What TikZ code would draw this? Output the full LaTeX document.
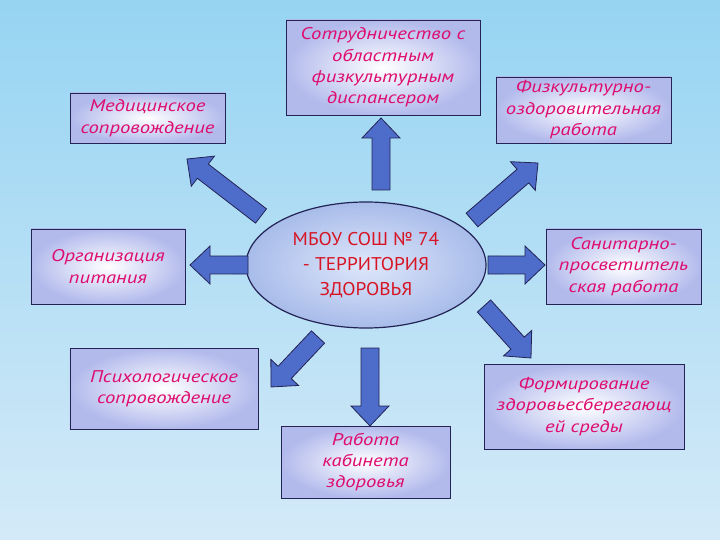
\documentclass[tikz,border=0pt]{standalone}
\usepackage{fontspec}
\setmainfont{PT Sans}
\newfontfamily\boxfont[FakeStretch=1.22]{PT Sans}
\newfontfamily\hubfont[FakeStretch=1.05]{PT Sans}
\usetikzlibrary{shapes.geometric,calc}
\definecolor{textcolor}{RGB}{222,12,110}
\definecolor{hubtext}{RGB}{215,20,35}
\definecolor{linecolor}{RGB}{35,35,85}
\definecolor{arrowfill}{RGB}{78,108,202}
\definecolor{boxfill}{RGB}{178,186,236}
\definecolor{hubfill}{RGB}{168,188,234}
\definecolor{hubcore}{RGB}{222,230,250}
\definecolor{skytop}{RGB}{150,212,242}
\definecolor{skymid}{RGB}{234,246,252}
\definecolor{skybot}{RGB}{212,234,248}

\begin{document}
\begin{tikzpicture}[%
    x=1bp, y=-1bp,              % pixel grid of the slide, y going down
    ]
\tikzset{
  base/.style={draw=linecolor, line width=0.8bp, align=center, inner sep=2bp},
  box/.style={base, rectangle, inner color=white, outer color=boxfill, text=textcolor,
    font=\boxfont\itshape\fontsize{17}{21.5}\selectfont},
  hub/.style={base, ellipse, line width=1.2bp, inner color=hubcore, outer color=hubfill,
    text=hubtext, font=\hubfont\fontsize{18.5}{25}\selectfont, minimum width=240bp, minimum height=126bp},
  fat/.style={draw=linecolor, fill=arrowfill, line width=0.8bp, line join=miter,
    to path={($(\tikztostart)!9bp!90:(\tikztotarget)$)
      -- ($(\tikztotarget)!21.93bp!-24.23:(\tikztostart)$)
      -- ($(\tikztotarget)!27.59bp!-43.53:(\tikztostart)$)
      -- (\tikztotarget)
      -- ($(\tikztotarget)!27.59bp!43.53:(\tikztostart)$)
      -- ($(\tikztotarget)!21.93bp!24.23:(\tikztostart)$)
      -- ($(\tikztostart)!9bp!-90:(\tikztotarget)$) -- cycle}},
}

% background of the slide
\shade [top color=skytop, middle color=skymid, bottom color=skybot] (0,0) rectangle (720,540);
\useasboundingbox (0,0) rectangle (720,540);

\node [hub] (c) at (366,265) {МБОУ СОШ № 74\\- ТЕРРИТОРИЯ\\ЗДОРОВЬЯ};

\node [box, minimum width=155bp, minimum height=50bp] (p1) at (147.5,118) {Медицинское\\сопровождение};
\node [box, minimum width=194bp, minimum height=95bp] (p2) at (383,67.5) {Сотрудничество с\\областным\\физкультурным\\диспансером};
\node [box, minimum width=175bp, minimum height=66bp] (p3) at (583.5,110) {Физкультурно-\\оздоровительная\\работа};
\node [box, minimum width=154bp, minimum height=75bp] (p4) at (108,266.5) {Организация\\питания};
\node [box, minimum width=155bp, minimum height=75bp] (p5) at (623.5,266.5) {Санитарно-\\просветитель\\ская работа};
\node [box, minimum width=188bp, minimum height=81bp] (p6) at (164,388.5) {Психологическое\\сопровождение};
\node [box, minimum width=169bp, minimum height=72bp] (p7) at (365.5,462) {Работа\\кабинета\\здоровья};
\node [box, minimum width=200bp, minimum height=85bp] (p8) at (584,406.5) {Формирование\\здоровьесберегающ\\ей среды};

% arrow ends
\coordinate (a1) at (261,216); \coordinate (b1) at (187,159);
\coordinate (a2) at (381,190); \coordinate (b2) at (381,118);
\coordinate (a3) at (472,220); \coordinate (b3) at (538,163);
\coordinate (a4) at (248,265); \coordinate (b4) at (190,265);
\coordinate (a5) at (488,265); \coordinate (b5) at (545,265);
\coordinate (a6) at (318,337); \coordinate (b6) at (271,387);
\coordinate (a7) at (370,348); \coordinate (b7) at (370,426);
\coordinate (a8) at (484,306); \coordinate (b8) at (531,358);

\draw [fat] (a1) to (b1);
\draw [fat] (a2) to (b2);
\draw [fat] (a3) to (b3);
\draw [fat] (a4) to (b4);
\draw [fat] (a5) to (b5);
\draw [fat] (a6) to (b6);
\draw [fat] (a7) to (b7);
\draw [fat] (a8) to (b8);

\end{tikzpicture}
\end{document}
